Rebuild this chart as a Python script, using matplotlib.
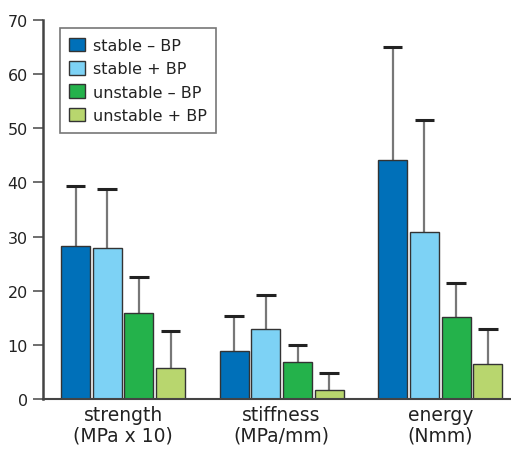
import matplotlib
matplotlib.use("Agg")
import matplotlib.pyplot as plt
import numpy as np

# mean values and upper SD
groups = ["strength\n(MPa x 10)", "stiffness\n(MPa/mm)", "energy\n(Nmm)"]
series = ["stable \u2013 BP", "stable + BP", "unstable \u2013 BP", "unstable + BP"]
colors = ["#0070b9", "#7dd2f5", "#24b24b", "#b8d66e"]

means = [
    [28.2, 8.9, 44.2],   # stable - BP
    [27.9, 12.9, 30.8],  # stable + BP
    [15.8, 6.8, 15.2],   # unstable - BP
    [5.7, 1.6, 6.4],     # unstable + BP
]
tops = [
    [39.4, 15.3, 65.1],
    [38.8, 19.2, 51.6],
    [22.6, 10.0, 21.4],
    [12.6, 4.8, 12.9],
]
yticks = [0, 10, 20, 30, 40, 50, 60, 70]

plt.rcParams['font.family'] = ['DejaVu Sans']
plt.rcParams['text.color'] = '#222222'
plt.rcParams['xtick.labelcolor'] = '#222222'
plt.rcParams['ytick.labelcolor'] = '#222222'

fig = plt.figure(figsize=(5.11, 4.52), dpi=100)
ax = fig.add_axes([43 / 511, 52 / 452, 467 / 511, 379 / 452])

x = np.arange(len(groups))
pitch = 0.2
width = 0.183
cap = 0.062

for i, name in enumerate(series):
    xs = x + (i - 1.5) * pitch
    ax.bar(xs, means[i], width=width, color=colors[i], edgecolor="#333333",
           linewidth=1.0, label=name, zorder=2)
    ax.vlines(xs, means[i], tops[i], color="#777777", linewidth=1.6, zorder=1)
    ax.hlines(tops[i], xs - cap, xs + cap, color="#222222", linewidth=2.2, zorder=3)

ax.set_xlim(-0.505, 2.44)
ax.set_ylim(0, 70)
ax.set_yticks(yticks)
ax.set_xticks(x)
ax.set_xticklabels(groups, fontsize=13.5, linespacing=1.1)
ax.tick_params(axis="x", length=0, pad=4)
ax.tick_params(axis="y", direction="out", length=7, width=1.2, color="#555555",
               labelsize=11.5, pad=4)

for s in ["top", "right"]:
    ax.spines[s].set_visible(False)
ax.spines["left"].set_color("#444444")
ax.spines["left"].set_linewidth(1.8)
ax.spines["bottom"].set_color("#444444")
ax.spines["bottom"].set_linewidth(1.5)

leg = ax.legend(loc="upper left", bbox_to_anchor=(0.036, 0.979), borderaxespad=0,
                fontsize=11.5, fancybox=False, framealpha=1, edgecolor="#777777",
                handlelength=0.95, handleheight=0.95, handletextpad=0.5,
                labelspacing=0.5, borderpad=0.6)
leg.get_frame().set_linewidth(1.2)

fig.savefig("out.png", dpi=100)
